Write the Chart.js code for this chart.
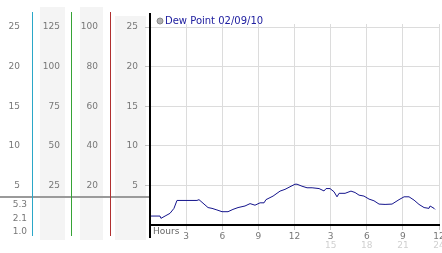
<!DOCTYPE html>
<html>
<head>
<meta charset="utf-8">
<script src="https://cdn.jsdelivr.net/npm/chart.js@4/dist/chart.umd.min.js"></script>
<style>
    html, body { margin: 0; padding: 0; background: #fff; }
    canvas { display: block; }
</style>
</head>
<body>
<canvas id="dewChart" width="442" height="253"></canvas>
<script>
// readings of 02/09/10, hour of day -> dew point
const hours = [0, 0.83, 0.91, 1.25, 1.66, 1.99, 2.24, 3.9, 4.07, 4.82, 5.15, 5.56, 5.98, 6.48, 6.89, 7.31, 7.89, 8.31,
    8.72, 9.14, 9.47, 9.63, 10.22, 10.8, 11.21, 12.04, 12.21, 12.62, 13.04, 13.46, 14.04, 14.45, 14.62, 14.95, 15.28,
    15.53, 15.7, 16.2, 16.69, 17.03, 17.36, 17.77, 18.19, 18.6, 19.02, 19.52, 20.1, 20.68, 21.1, 21.51, 21.93, 22.34,
    22.76, 23.17, 23.26, 23.59, 23.67];
const dewPoint = [1.13, 1.13, 0.84, 1.13, 1.47, 2.1, 3.1, 3.1, 3.2, 2.2, 2.1, 1.9, 1.68, 1.68, 1.97, 2.2, 2.4, 2.7,
    2.5, 2.8, 2.8, 3.2, 3.65, 4.28, 4.5, 5.15, 5.15, 4.9, 4.7, 4.7, 4.6, 4.3, 4.6, 4.6, 4.2,
    3.56, 4.0, 4.0, 4.28, 4.1, 3.77, 3.65, 3.27, 3.06, 2.64, 2.6, 2.64, 3.2, 3.56, 3.56, 3.14, 2.6,
    2.2, 2.1, 2.4, 2.1, 1.97];

const dewTicks = [5, 10, 15, 20, 25];
const secondTicks = [25, 50, 75, 100, 125];
const thirdTicks = [20, 40, 60, 80, 100];
const hourTicks = [3, 6, 9, 12, 15, 18, 21, 24];
const hourLabels = ["3", "6", "9", "12", "3", "6", "9", "12"];
const lateHourTicks = [15, 18, 21, 24];
const lowLabels = ["5.3", "2.1", "1.0"];

const yMax = 25.38;
const schrift = { family: "DejaVu Sans", size: 9 };

function festeTicks(werte) {
    return (scale) => {
        scale.ticks = werte.map((v) => ({ value: v }));
    };
}

function linkeAchse(weight, max, werte, breite, abstand) {
    return {
        position: "left",
        weight: weight,
        min: 0,
        max: max,
        afterBuildTicks: festeTicks(werte),
        afterFit: (scale) => { scale.width = breite; },
        grid: { display: false, drawTicks: false },
        border: { display: false },
        ticks: { font: schrift, color: "#777", padding: abstand },
    };
}

const panelPlugin = {
    id: "panel",
    beforeDraw(chart) {
        const ctx = chart.ctx;
        const s = chart.scales;
        ctx.save();
        ctx.fillStyle = "#f4f4f4";
        ctx.fillRect(s.ySecond.left + 7, 7, s.ySecond.width - 14, 233);
        ctx.fillRect(s.yThird.left + 8, 7, s.yThird.width - 16, 233);
        ctx.fillRect(s.y.left + 4, 16, s.y.width - 8, 224);
        ctx.restore();
    },
    afterDraw(chart) {
        const ctx = chart.ctx;
        const s = chart.scales;
        const area = chart.chartArea;
        ctx.save();

        // separator of the left panel
        ctx.fillStyle = "#9a9a9a";
        ctx.fillRect(0, 196, area.left, 2);

        // coloured column lines
        const linien = [
            [s.yFirst, "#2aa7c8"],
            [s.ySecond, "#36a336"],
            [s.yThird, "#b03030"],
        ];
        linien.forEach(([scale, farbe]) => {
            ctx.fillStyle = farbe;
            ctx.fillRect(scale.right - 1, 12, 1, 224);
        });
        ctx.fillStyle = "#000";
        ctx.fillRect(area.left - 1, 13, 2, 225);

        ctx.font = "9px 'DejaVu Sans'";
        ctx.fillStyle = "#777";
        ctx.textAlign = "right";
        ctx.textBaseline = "middle";
        lowLabels.forEach((txt, i) => {
            ctx.fillText(txt, 27, 205 + i * 13.5);
        });

        ctx.textAlign = "left";
        ctx.fillStyle = "#666";
        ctx.fillText("Hours", area.left + 3, 232);

        // legend
        const ds = chart.data.datasets[0];
        ctx.beginPath();
        ctx.arc(area.left + 10, 21, 3, 0, Math.PI * 2);
        ctx.fillStyle = "#b0b0b0";
        ctx.fill();
        ctx.strokeStyle = "#888";
        ctx.lineWidth = 1;
        ctx.stroke();
        ctx.font = "10px 'DejaVu Sans'";
        ctx.fillStyle = "#2020a0";
        ctx.fillText(ds.label, area.left + 15, 21);
        ctx.restore();
    },
};

new Chart(document.getElementById("dewChart"), {
    type: "line",
    data: {
        datasets: [
            {
                label: "Dew Point 02/09/10",
                data: hours.map((h, i) => ({ x: h, y: dewPoint[i] })),
                borderColor: "#14148c",
                borderWidth: 1,
                pointRadius: 0,
                tension: 0,
            },
        ],
    },
    options: {
        responsive: false,
        animation: false,
        layout: { padding: { top: 24, right: 3, bottom: 0, left: 0 } },
        plugins: {
            legend: { display: false },
            tooltip: { enabled: false },
        },
        scales: {
            x: {
                type: "linear",
                position: "bottom",
                weight: 0,
                min: 0,
                max: 24,
                afterBuildTicks: festeTicks(hourTicks),
                afterFit: (scale) => {
                    scale.height = 15;
                    scale.paddingLeft = 0;
                    scale.paddingRight = 0;
                },
                grid: { color: "#dcdcdc", tickColor: "#c4c4c4", tickLength: 5 },
                border: { color: "#000", width: 2 },
                ticks: {
                    font: schrift,
                    color: "#777",
                    padding: 1,
                    maxRotation: 0,
                    autoSkip: false,
                    callback: (v) => hourLabels[hourTicks.indexOf(v)],
                },
            },
            xLate: {
                type: "linear",
                position: "bottom",
                weight: 1,
                min: 0,
                max: 24,
                afterBuildTicks: festeTicks(lateHourTicks),
                afterFit: (scale) => {
                    scale.height = 13;
                    scale.paddingLeft = 0;
                    scale.paddingRight = 0;
                },
                grid: { display: false, drawTicks: false },
                border: { display: false },
                ticks: { font: schrift, color: "#d0d0d0", padding: 0, maxRotation: 0, autoSkip: false },
            },
            y: {
                position: "left",
                weight: 0,
                min: 0,
                max: yMax,
                afterBuildTicks: festeTicks(dewTicks),
                afterFit: (scale) => { scale.width = 39; },
                grid: { color: "#dcdcdc", tickColor: "#c4c4c4", tickLength: 5 },
                border: { display: false },
                ticks: { font: schrift, color: "#777", padding: 7 },
            },
            yThird: linkeAchse(1, yMax * 4, thirdTicks, 39, 13),
            ySecond: linkeAchse(2, yMax * 5, secondTicks, 39, 12),
            yFirst: linkeAchse(3, yMax, dewTicks, 33, 13),
        },
    },
    plugins: [panelPlugin],
});
</script>
</body>
</html>
